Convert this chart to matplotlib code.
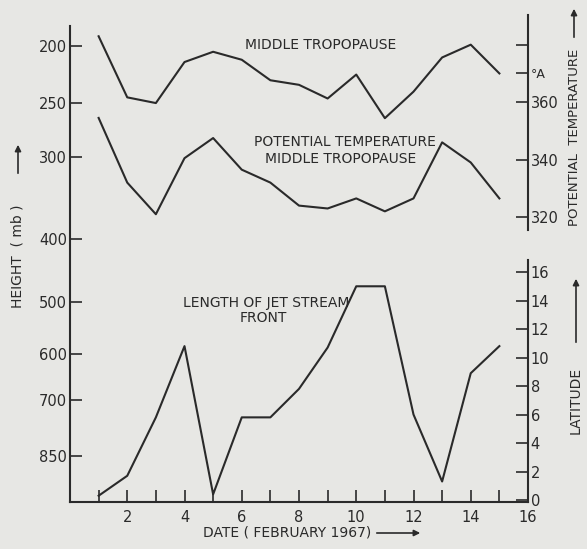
import numpy as np
import matplotlib
matplotlib.use("Agg")
import matplotlib.pyplot as plt

# values, dates 1..15 February 1967
days = np.arange(1, 16)
trop_mb = [193, 245, 250, 214, 205, 212, 230, 234, 246, 225, 264, 240, 210, 199, 224]
theta_k = [354.5, 332, 321, 340.5, 347.5, 336.5, 332, 324, 323, 326.5, 322, 326.5, 346, 339, 326.5]
jet_lat = [0.3, 1.7, 5.8, 10.8, 0.4, 5.8, 5.8, 7.8, 10.7, 15, 15, 6, 1.3, 8.9, 10.8]

press_ticks = [200, 250, 300, 400, 500, 600, 700, 850]
theta_ticks = [320, 340, 360, 370, 380]
theta_labels = ["320", "340", "360", "°A", ""]
lat_ticks = [0, 2, 4, 6, 8, 10, 12, 14, 16]
date_ticks = [2, 4, 6, 8, 10, 12, 14, 16]

# the hand drawn height axis is not linear in pressure: piecewise scale
P_NODES = [150, 200, 250, 300, 400, 500, 600, 700, 850, 1000]
D_NODES = [-0.080, 0.0637, 0.1807, 0.2916, 0.4600, 0.5893, 0.6961, 0.7906, 0.9055, 1.0103]


def p_fwd(p):
    return np.interp(p, P_NODES, D_NODES, left=-0.2, right=1.2)


def p_inv(d):
    return np.interp(d, D_NODES, P_NODES, left=100, right=1100)


BG = "#e7e7e4"
INK = "#2a2a2a"
W, H = 587, 549

plt.rcParams["font.family"] = "DejaVu Sans"
fig = plt.figure(figsize=(W / 100, H / 100), dpi=100, facecolor=BG)
ax = fig.add_axes([70 / W, 1 - 502 / H, 458 / W, 487 / H])
ax.set_facecolor(BG)


def fx(x):
    return x / W


def fy(y):
    return 1 - y / H


tick_kw = dict(direction="in", length=8.5, width=1.2, colors=INK, labelsize=10.5)

# pressure (left) axis
ax.set_yscale("function", functions=(p_fwd, p_inv))
ax.set_ylim(985, 177.8)
ax.set_xlim(0, 16)
ax.plot(days, trop_mb, color=INK, lw=1.5)
ax.set_yticks(press_ticks)
ax.set_yticklabels([str(t) for t in press_ticks])
ax.yaxis.set_minor_locator(matplotlib.ticker.NullLocator())
ax.tick_params(axis="y", pad=2, **tick_kw)
ax.set_xticks(date_ticks)
ax.set_xticks(np.arange(1, 16, 2), minor=True)
ax.tick_params(axis="x", which="both", pad=6, **tick_kw)
ax.spines["left"].set_bounds(985, 186)
for s in ["top", "right"]:
    ax.spines[s].set_visible(False)
for s in ["left", "bottom"]:
    ax.spines[s].set_linewidth(1.5)
    ax.spines[s].set_color(INK)

# potential temperature (upper right) axis
axt = ax.twinx()
axt.set_ylim(220.9, 390.3)
axt.plot(days, theta_k, color=INK, lw=1.5)
axt.set_yticks(theta_ticks)
axt.set_yticklabels(theta_labels)
axt.tick_params(axis="y", pad=2, **tick_kw)
axt.get_yticklabels()[3].set_fontsize(9)
axt.spines["right"].set_bounds(315.5, 390.3)

# latitude (lower right) axis
axl = ax.twinx()
axl.set_ylim(-0.14, 34.04)
axl.plot(days, jet_lat, color=INK, lw=1.5)
axl.set_yticks(lat_ticks)
axl.tick_params(axis="y", pad=2, **tick_kw)
axl.spines["right"].set_bounds(-0.14, 16.84)

for a in (axt, axl):
    for s in ["top", "left", "bottom"]:
        a.spines[s].set_visible(False)
    a.spines["right"].set_linewidth(1.5)
    a.spines["right"].set_color(INK)

# curve labels
lab = dict(color=INK, fontsize=10, ha="center", va="center")
fig.text(fx(321), fy(45), "MIDDLE TROPOPAUSE", **lab)
fig.text(fx(345), fy(142), "POTENTIAL TEMPERATURE", **lab)
fig.text(fx(341), fy(159), "MIDDLE TROPOPAUSE", **lab)
fig.text(fx(266), fy(303), "LENGTH OF JET STREAM", **lab)
fig.text(fx(263), fy(318), "FRONT", **lab)

# axis titles with arrows
ttl = dict(color=INK, fontsize=10, va="center", ha="center")
fig.text(fx(18), fy(256), "HEIGHT  ( mb )", rotation=90, **ttl)
fig.text(fx(574), fy(137), "POTENTIAL  TEMPERATURE", rotation=90, fontsize=9.5,
         color=INK, va="center", ha="center")
fig.text(fx(576), fy(400), "LATITUDE", rotation=90, **ttl)
fig.text(fx(287), fy(533), "DATE ( FEBRUARY 1967)", **ttl)

arr = dict(arrowstyle="-|>", lw=1.2, color=INK, mutation_scale=9)
for (x0, y0, x1, y1) in [(18, 176, 18, 142), (574, 40, 574, 6),
                         (576, 345, 576, 276), (374, 533, 423, 533)]:
    fig.add_artist(matplotlib.patches.FancyArrowPatch(
        (fx(x0), fy(y0)), (fx(x1), fy(y1)), transform=fig.transFigure, **arr))

fig.savefig("out.png", dpi=100, facecolor=BG)
